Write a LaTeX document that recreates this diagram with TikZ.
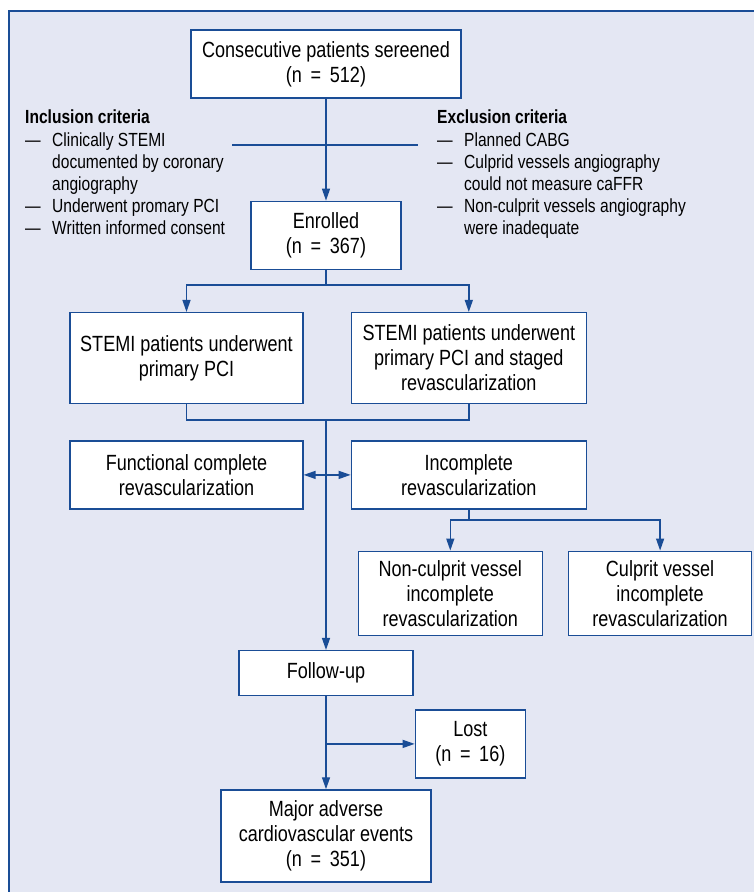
\documentclass[tikz,border=0pt]{standalone}
\usepackage{fontspec}
\setmainfont{Liberation Sans}[FakeStretch=0.82]
\usepackage{xcolor}
\usetikzlibrary{arrows.meta,positioning,calc}
\definecolor{flowblue}{RGB}{26,77,150}
\definecolor{panel}{RGB}{228,231,243}
\newcommand{\critdash}{\makebox[27pt][l]{—}}
\newcommand{\critgap}{\hspace*{27pt}}
\tikzset{
  >={Triangle[length=12pt,width=8pt]},
  box/.style={draw=flowblue, line width=1.3pt, fill=white, align=center, inner sep=2pt,
    font=\fontsize{22}{25}\selectfont},
  crit/.style={align=left, inner sep=0pt, anchor=north west,
    font=\fontsize{19}{22.2}\selectfont},
  link/.style={draw=flowblue, line width=1.4pt},
}

\begin{document}
\begin{tikzpicture}[x=1pt, y=-1pt]
  \useasboundingbox (0,0) rectangle (754,892);
  \fill[panel] (9,11) rectangle (754,892);
  \draw[flowblue, line width=2pt] (9,892) -- (9,11) -- (754,11);

  \node[box, minimum width=270pt, minimum height=68pt] (screen) at (326,64)
    {Consecutive patients sereened\\(n \,=\, 512)};
  \node[box, below=102pt of screen, minimum width=150pt, minimum height=68pt] (enrol)
    {Enrolled\\(n \,=\, 367)};

  \node[crit] (incl) at (25,110)
    {\textbf{Inclusion criteria}\\
     \critdash Clinically STEMI\\
     \critgap documented by coronary\\
     \critgap angiography\\
     \critdash Underwent promary PCI\\
     \critdash Written informed consent};
  \node[crit] (excl) at (437,110)
    {\textbf{Exclusion criteria}\\
     \critdash Planned CABG\\
     \critdash Culprid vessels angiography\\
     \critgap could not measure caFFR\\
     \critdash Non-culprit vessels angiography\\
     \critgap were inadequate};
  \coordinate (inclend) at (232,145);
  \coordinate (exclend) at (418,145);

  \node[box, below=42pt of enrol, xshift=-139.5pt, minimum width=233pt, minimum height=91pt] (pci)
    {STEMI patients underwent\\primary PCI};
  \node[box, right=47pt of pci, minimum width=235pt, minimum height=91pt] (staged)
    {STEMI patients underwent\\primary PCI and staged\\revascularization};

  \node[box, below=36pt of pci, minimum width=233pt, minimum height=68pt] (fcr)
    {Functional complete\\revascularization};
  \node[box, below=36pt of staged, minimum width=235pt, minimum height=68pt] (icr)
    {Incomplete\\revascularization};

  \node[box, below=41pt of icr, xshift=-18.5pt, minimum width=184pt, minimum height=84pt] (noncul)
    {Non-culprit vessel\\incomplete\\revascularization};
  \node[box, right=25pt of noncul, minimum width=183pt, minimum height=84pt] (cul)
    {Culprit vessel\\incomplete\\revascularization};

  \node[box, below=380pt of enrol, minimum width=174pt, minimum height=45pt] (follow)
    {Follow-up};
  \node[box, below right=13pt and 1pt of follow.south east,
    minimum width=110pt, minimum height=68pt] (lost)
    {Lost\\(n \,=\, 16)};
  \node[box, below=93pt of follow, minimum width=210pt, minimum height=92pt] (mace)
    {Major adverse\\cardiovascular events\\(n \,=\, 351)};

  \coordinate (split) at (326,285);
  \coordinate (merge) at (326,420);
  \coordinate (icsplit) at (466,520);

  \draw[link, ->] (screen) -- (enrol);
  \draw[link] (inclend) -- (exclend);
  \draw[link] (enrol) -- (split);
  \draw[link, ->] (split) -| (pci.north);
  \draw[link, ->] (split) -| (staged.north);
  \draw[link] (pci.south) |- (merge);
  \draw[link] (staged.south) |- (merge);
  \draw[link, ->] (merge) -- (follow);
  \draw[link, <->] (fcr) -- (icr);
  \draw[link] (icsplit -| icr.south) -- (icr.south);
  \draw[link, ->] (icsplit) -| (noncul.north);
  \draw[link, ->] (icsplit) -| (cul.north);
  \draw[link, ->] (follow) -- (mace);
  \draw[link, ->] (follow.south |- lost.west) -- (lost.west);
\end{tikzpicture}
\end{document}
